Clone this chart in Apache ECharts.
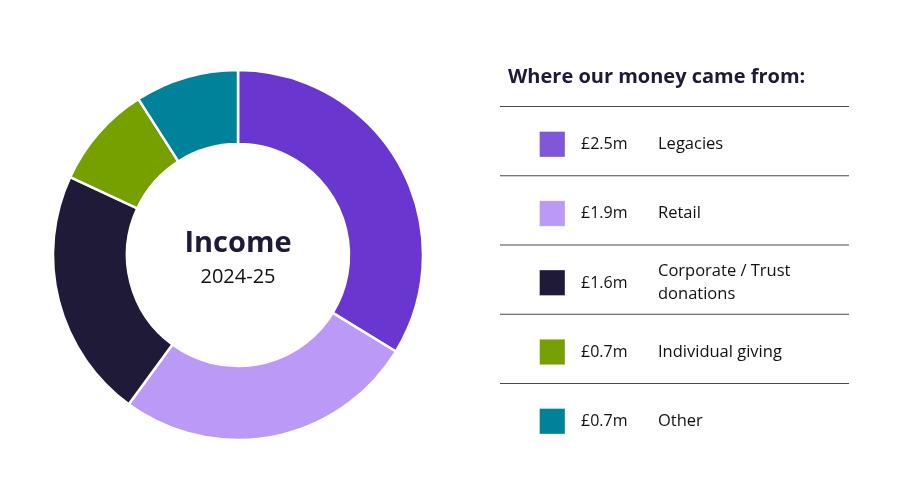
<!DOCTYPE html>
<html>
<head>
<meta charset="utf-8">
<script src="https://cdn.jsdelivr.net/npm/echarts@6/dist/echarts.min.js"></script>
<style>
html,body{margin:0;padding:0;background:#fff;}
#chart{width:904px;height:497px;}
</style>
</head>
<body>
<div id="chart"></div>
<script>
var categories = ['Legacies', 'Retail', 'Corporate / Trust\ndonations', 'Individual giving', 'Other'];
var values = [2.5, 1.95, 1.62, 0.67, 0.67];
var valueLabels = ['£2.5m', '£1.9m', '£1.6m', '£0.7m', '£0.7m'];
var sliceColors = ['#6937d0', '#bb99f7', '#1e1a38', '#76a000', '#00829a'];
var swatchColors = ['#7f57d8', '#bb99f7', '#1e1a38', '#76a000', '#00829a'];

var chart = echarts.init(document.getElementById('chart'));
var FONT = '"Open Sans", "Liberation Sans", sans-serif';
var DARK = '#1e1a38';

var graphics = [];
graphics.push({
  type: 'text', left: 508, top: 67,
  style: { text: 'Where our money came from:', font: '700 20px ' + FONT, fill: DARK }
});
var lineTop = 106.5, rowH = 69.25;
for (var i = 0; i <= categories.length - 1; i++) {
  var y0 = lineTop + i * rowH;
  graphics.push({
    type: 'line', shape: { x1: 500, y1: y0, x2: 849, y2: y0 },
    style: { stroke: '#4a4a4a', lineWidth: 1.2 }
  });
}
for (var j = 0; j < categories.length; j++) {
  var cy = lineTop + j * rowH + 38;
  graphics.push({
    type: 'rect', shape: { x: 539.5, y: cy - 13, width: 25.5, height: 25.5 },
    style: { fill: swatchColors[j], stroke: 'rgba(255,255,255,0.35)', lineWidth: 1 }
  });
  graphics.push({
    type: 'text', x: 581, y: cy,
    style: { text: valueLabels[j], font: '16px ' + FONT, fill: '#111', textVerticalAlign: 'middle' }
  });
  graphics.push({
    type: 'text', x: 658, y: cy,
    style: { text: categories[j], font: '16.5px ' + FONT, fill: '#111', textVerticalAlign: 'middle', lineHeight: 23 }
  });
}
graphics.push({
  type: 'text', x: 238, y: 244,
  style: { text: 'Income', font: '700 29px ' + FONT, fill: DARK, textAlign: 'center', textVerticalAlign: 'middle' }
});
graphics.push({
  type: 'text', x: 238, y: 277,
  style: { text: '2024-25', font: '20px ' + FONT, fill: '#111', textAlign: 'center', textVerticalAlign: 'middle' }
});

var pieData = categories.map(function (c, k) {
  return { name: c, value: values[k], itemStyle: { color: sliceColors[k] } };
});

chart.setOption({
  animation: false,
  series: [{
    type: 'pie',
    center: [238, 255],
    radius: [111, 185],
    startAngle: 90,
    clockwise: true,
    label: { show: false },
    labelLine: { show: false },
    emphasis: { disabled: true },
    itemStyle: { borderColor: '#fff', borderWidth: 2.5 },
    data: pieData
  }],
  graphic: graphics
});
</script>
</body>
</html>
